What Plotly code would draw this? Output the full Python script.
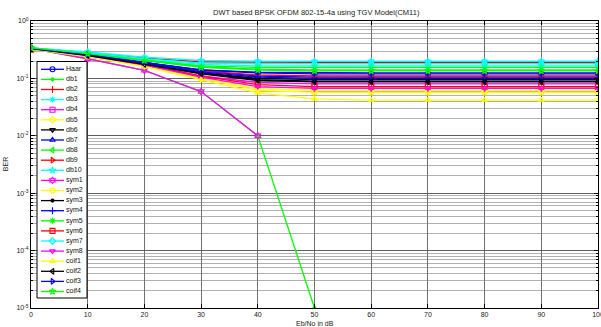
import plotly.graph_objects as go

x_snr = [0, 10, 20, 30, 40, 50, 60, 70, 80, 90, 100]

names = ["Haar", "db1", "db2", "db3", "db4", "db5", "db6", "db7", "db8", "db9", "db10",
         "sym1", "sym2", "sym3", "sym4", "sym5", "sym6", "sym7", "sym8",
         "coif1", "coif2", "coif3", "coif4"]

haar = [0.33, 0.25, 0.185, 0.14, 0.125, 0.12, 0.12, 0.12, 0.12, 0.12, 0.12]
db1 = [0.33, 0.22, 0.138, 0.059, 0.01, 1e-5, None, None, None, None, None]
db2 = [0.34, 0.28, 0.225, 0.195, 0.19, 0.19, 0.19, 0.19, 0.19, 0.19, 0.19]
db3 = [0.33, 0.27, 0.21, 0.175, 0.165, 0.165, 0.165, 0.165, 0.165, 0.165, 0.165]
db4 = [0.32, 0.25, 0.175, 0.11, 0.085, 0.08, 0.08, 0.08, 0.08, 0.08, 0.08]
db5 = [0.32, 0.24, 0.165, 0.1, 0.066, 0.062, 0.062, 0.062, 0.062, 0.062, 0.062]
db6 = [0.33, 0.25, 0.175, 0.125, 0.1, 0.095, 0.095, 0.095, 0.095, 0.095, 0.095]
db7 = [0.33, 0.26, 0.19, 0.135, 0.11, 0.105, 0.105, 0.105, 0.105, 0.105, 0.105]
db8 = [0.34, 0.27, 0.21, 0.16, 0.145, 0.14, 0.14, 0.14, 0.14, 0.14, 0.14]
db9 = [0.33, 0.26, 0.19, 0.135, 0.115, 0.11, 0.11, 0.11, 0.11, 0.11, 0.11]
db10 = [0.34, 0.29, 0.235, 0.205, 0.2, 0.2, 0.2, 0.2, 0.2, 0.2, 0.2]
sym1 = [0.33, 0.22, 0.138, 0.059, 0.01, None, None, None, None, None, None]
sym2 = [0.32, 0.24, 0.165, 0.1, 0.062, 0.057, 0.057, 0.057, 0.057, 0.057, 0.057]
sym3 = [0.33, 0.25, 0.18, 0.125, 0.095, 0.09, 0.09, 0.09, 0.09, 0.09, 0.09]
sym4 = [0.33, 0.25, 0.185, 0.13, 0.105, 0.1, 0.1, 0.1, 0.1, 0.1, 0.1]
sym5 = [0.34, 0.27, 0.205, 0.165, 0.155, 0.155, 0.155, 0.155, 0.155, 0.155, 0.155]
sym6 = [0.32, 0.25, 0.175, 0.11, 0.078, 0.072, 0.072, 0.072, 0.072, 0.072, 0.072]
sym7 = [0.34, 0.28, 0.22, 0.185, 0.18, 0.18, 0.18, 0.18, 0.18, 0.18, 0.18]
sym8 = [0.32, 0.24, 0.17, 0.105, 0.072, 0.067, 0.067, 0.067, 0.067, 0.067, 0.067]
coif1 = [0.32, 0.24, 0.16, 0.095, 0.056, 0.044, 0.042, 0.042, 0.042, 0.042, 0.042]
coif2 = [0.33, 0.25, 0.175, 0.12, 0.092, 0.087, 0.087, 0.087, 0.087, 0.087, 0.087]
coif3 = [0.33, 0.26, 0.19, 0.14, 0.128, 0.125, 0.125, 0.125, 0.125, 0.125, 0.125]
coif4 = [0.34, 0.27, 0.205, 0.155, 0.14, 0.135, 0.135, 0.135, 0.135, 0.135, 0.135]

series = [haar, db1, db2, db3, db4, db5, db6, db7, db8, db9, db10,
          sym1, sym2, sym3, sym4, sym5, sym6, sym7, sym8,
          coif1, coif2, coif3, coif4]

color_cycle = ["#0000FF", "#00FF00", "#FF0000", "#00FFFF", "#FF00FF", "#FFFF00", "#000000"]
symbol_cycle = ["circle-open", "circle", "cross-thin-open", "asterisk-open", "square-open",
                "diamond-open", "triangle-down-open", "triangle-up-open", "triangle-left-open",
                "triangle-right-open", "star-open", "hexagram-open"]

y_tickvals = [1e-5, 1e-4, 1e-3, 1e-2, 1e-1, 1]
y_ticktext = ["10<sup>-5</sup>", "10<sup>-4</sup>", "10<sup>-3</sup>",
              "10<sup>-2</sup>", "10<sup>-1</sup>", "10<sup>0</sup>"]

FONT = "Liberation Sans, Arial, sans-serif"

fig = go.Figure()


def style(i):
    sym = symbol_cycle[i % len(symbol_cycle)]
    size = 3 if sym == "circle" else 5
    return color_cycle[i % len(color_cycle)], sym, size


for i in range(len(names)):
    c, s, sz = style(i)
    fig.add_trace(go.Scatter(
        x=x_snr, y=series[i], mode="lines+markers", name=names[i],
        line=dict(color=c, width=1.3),
        marker=dict(symbol=s, size=sz, color=c, line=dict(color=c, width=1.1)),
        connectgaps=False, showlegend=False))

# ---- compact legend drawn on overlay axes in pixel units of the plot area ----
PW, PH = 567, 287
box_l, box_r, box_t, box_b = 6, 56, 40.5, 277
row0, row_step = 48.3, 10.1
fig.add_trace(go.Scatter(
    x=[box_l, box_r, box_r, box_l, box_l], y=[box_t, box_t, box_b, box_b, box_t],
    xaxis="x2", yaxis="y2", mode="lines", fill="toself", fillcolor="white",
    line=dict(color="black", width=1), showlegend=False, hoverinfo="skip"))
for i, nm in enumerate(names):
    c, s, sz = style(i)
    yy = row0 + row_step * i
    fig.add_trace(go.Scatter(
        x=[10, 33], y=[yy, yy], xaxis="x2", yaxis="y2", mode="lines",
        line=dict(color=c, width=1.3), showlegend=False, hoverinfo="skip"))
    fig.add_trace(go.Scatter(
        x=[21.5], y=[yy], xaxis="x2", yaxis="y2", mode="markers",
        marker=dict(symbol=s, size=sz, color=c, line=dict(color=c, width=1.1)),
        showlegend=False, hoverinfo="skip"))
    fig.add_trace(go.Scatter(
        x=[35], y=[yy], xaxis="x2", yaxis="y2", mode="text", text=[nm],
        textposition="middle right", textfont=dict(size=7, color="#111", family=FONT),
        showlegend=False, hoverinfo="skip"))

fig.update_layout(
    width=601, height=327,
    margin=dict(l=31, r=3, t=21, b=19, autoexpand=False),
    paper_bgcolor="white", plot_bgcolor="white",
    font=dict(family=FONT, size=7, color="#222"),
    title=dict(text="DWT based BPSK OFDM 802-15-4a using TGV Model(CM11)",
               x=0.5262, xanchor="center", y=0.963, yanchor="middle",
               font=dict(size=7.5, color="#222", family=FONT)),
    xaxis=dict(range=[0, 100], tickmode="linear", tick0=0, dtick=10,
               showgrid=True, gridcolor="#707070", gridwidth=1,
               showline=True, linecolor="black", linewidth=1, mirror="allticks",
               ticks="inside", ticklen=4, tickcolor="black", automargin=False,
               ticklabeloverflow="allow",
               zeroline=False, tickfont=dict(size=7, color="#222")),
    yaxis=dict(type="log", range=[-5, 0], tickmode="array",
               tickvals=y_tickvals, ticktext=y_ticktext,
               showgrid=True, gridcolor="#606060", gridwidth=1,
               showline=True, linecolor="black", linewidth=1, mirror="allticks",
               ticks="inside", ticklen=4, tickcolor="black", automargin=False,
               minor=dict(dtick="D1", showgrid=True, gridcolor="#b0b0b0", gridwidth=1,
                          ticks="inside", ticklen=2, tickcolor="black"),
               zeroline=False, tickfont=dict(size=7, color="#222")),
    xaxis2=dict(overlaying="x", range=[0, PW], visible=False, fixedrange=True, automargin=False),
    yaxis2=dict(overlaying="y", range=[PH, 0], visible=False, fixedrange=True, automargin=False),
    annotations=[
        dict(text="Eb/No in dB", xref="paper", yref="paper", x=0.5, y=-0.035,
             xanchor="center", yanchor="top", showarrow=False,
             font=dict(size=7, color="#222")),
        dict(text="BER", xref="paper", yref="paper", x=-0.035, y=0.5, textangle=-90,
             xanchor="right", yanchor="middle", showarrow=False,
             font=dict(size=7, color="#222")),
    ],
)

fig.write_html("out.html", config={"displayModeBar": False},
               post_script="document.body.style.margin='0';document.body.style.padding='0';")
